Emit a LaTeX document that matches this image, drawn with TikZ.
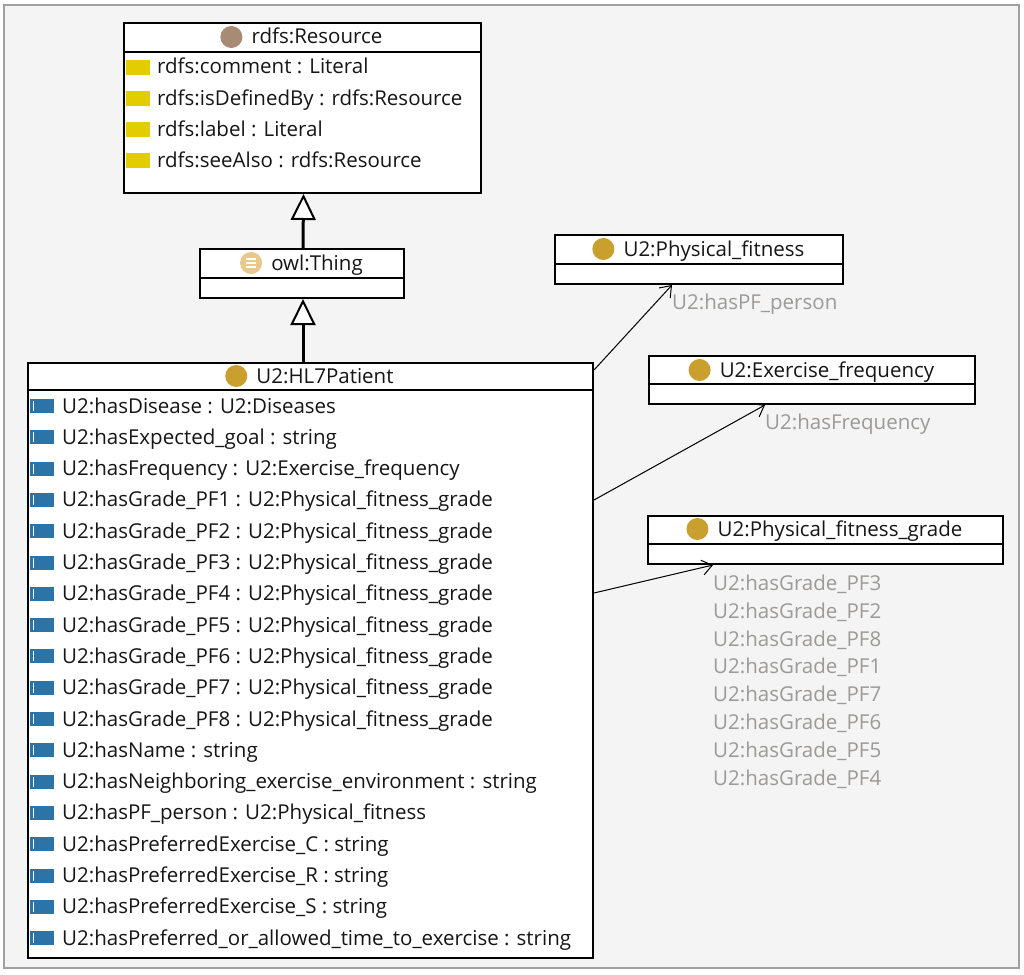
\documentclass[tikz,border=0pt]{standalone}
\usepackage{fontspec}
\setmainfont{Open Sans}
\usetikzlibrary{arrows.meta}
\definecolor{bgc}{HTML}{F4F4F4}
\definecolor{framec}{HTML}{A0A0A0}
\definecolor{txtc}{HTML}{161616}
\definecolor{lblc}{HTML}{9C9A98}
\definecolor{goldc}{HTML}{C99F2E}
\definecolor{brownc}{HTML}{A88B74}
\definecolor{thingc}{HTML}{E8C98A}
\definecolor{yelc}{HTML}{E3CC00}
\definecolor{bluec}{HTML}{2D74A6}
\begin{document}
\begin{tikzpicture}[x=1pt,y=-1pt,
  classbox/.style={draw=black,line width=2pt,fill=white,inner sep=0pt,anchor=north west},
  divline/.style={draw=black,line width=1.5pt},
  ttl/.style={inner sep=0pt,font=\fontsize{20.5}{24}\selectfont,text=txtc,text height=14pt,text depth=0pt},
  rowtxt/.style={inner sep=0pt,anchor=west,font=\fontsize{20.5}{24}\selectfont,text=txtc,text height=14pt,text depth=0pt},
  lbl/.style={inner sep=0pt,anchor=west,font=\fontsize{20.5}{24}\selectfont,text=lblc,text height=14pt,text depth=0pt},
  gen/.style={line width=3pt,-{Triangle[open,fill=white,length=26pt,width=25pt,line width=2pt]}},
  prop/.style={line width=1pt,-{Straight Barb[length=10pt,width=15pt,line width=1pt]}},
]
\useasboundingbox (0,0) rectangle (1024,974);
\fill[white] (0,0) rectangle (1024,974);
\draw[framec,line width=1.5pt,fill=bgc] (4,5) rectangle (1019,968);

% rdfs:Resource
\node[classbox,minimum width=357pt,minimum height=170pt] (res) at (123,22) {};
\draw[divline] ([yshift=-30pt]res.north west) -- ([yshift=-30pt]res.north east);
\node[ttl] (rest) at (317,37) {rdfs:Resource};
\fill[brownc] ([xshift=-20pt]rest.west) circle (11pt);
\foreach \t [count=\i from 0] in {rdfs:comment : Literal, rdfs:isDefinedBy : rdfs:Resource, rdfs:label : Literal, rdfs:seeAlso : rdfs:Resource}{
  \pgfmathsetmacro{\yy}{67+31*\i}
  \fill[yelc] (126,\yy-7.5) rectangle (150,\yy+7.5);
  \node[rowtxt] (ra\i) at (157,\yy) {\t};
}

% owl:Thing
\node[classbox,minimum width=204pt,minimum height=49pt] (thing) at (199,248) {};
\draw[divline] ([yshift=-30pt]thing.north west) -- ([yshift=-30pt]thing.north east);
\node[ttl] (thingt) at (317,263) {owl:Thing};
\fill[thingc] ([xshift=-20pt]thingt.west) circle (11pt);
\foreach \d in {-4,0,4}{
  \draw[white,line width=1.5pt] ([xshift=-25pt,yshift=\d pt]thingt.west) -- ([xshift=-15pt,yshift=\d pt]thingt.west);
}

% U2:HL7Patient
\node[classbox,minimum width=565pt,minimum height=595pt] (hl7) at (27,362) {};
\draw[divline] ([yshift=-28pt]hl7.north west) -- ([yshift=-28pt]hl7.north east);
\node[ttl] (hl7t) at (325,376) {U2:HL7Patient};
\fill[goldc] ([xshift=-20pt]hl7t.west) circle (11pt);
\foreach \t [count=\i from 0] in {
  U2:hasDisease : U2:Diseases,
  U2:hasExpected\_goal : string,
  U2:hasFrequency : U2:Exercise\_frequency,
  U2:hasGrade\_PF1 : U2:Physical\_fitness\_grade,
  U2:hasGrade\_PF2 : U2:Physical\_fitness\_grade,
  U2:hasGrade\_PF3 : U2:Physical\_fitness\_grade,
  U2:hasGrade\_PF4 : U2:Physical\_fitness\_grade,
  U2:hasGrade\_PF5 : U2:Physical\_fitness\_grade,
  U2:hasGrade\_PF6 : U2:Physical\_fitness\_grade,
  U2:hasGrade\_PF7 : U2:Physical\_fitness\_grade,
  U2:hasGrade\_PF8 : U2:Physical\_fitness\_grade,
  U2:hasName : string,
  U2:hasNeighboring\_exercise\_environment : string,
  U2:hasPF\_person : U2:Physical\_fitness,
  U2:hasPreferredExercise\_C : string,
  U2:hasPreferredExercise\_R : string,
  U2:hasPreferredExercise\_S : string,
  U2:hasPreferred\_or\_allowed\_time\_to\_exercise : string}{
  \pgfmathsetmacro{\yy}{406+31.3*\i}
  \fill[bluec] (30,\yy-7) rectangle (54,\yy+7);
  \draw[white,line width=1.2pt] (33.5,\yy-5) -- (33.5,\yy+5);
  \node[rowtxt] (rb\i) at (62,\yy) {\t};
}

% U2:Physical_fitness
\node[classbox,minimum width=288pt,minimum height=49pt] (pf) at (554,234) {};
\draw[divline] ([yshift=-30pt]pf.north west) -- ([yshift=-30pt]pf.north east);
\node[ttl] (pft) at (714,249) {U2:Physical\_fitness};
\fill[goldc] ([xshift=-20pt]pft.west) circle (11pt);

% U2:Exercise_frequency
\node[classbox,minimum width=326pt,minimum height=48pt] (ex) at (648,355) {};
\draw[divline] ([yshift=-29pt]ex.north west) -- ([yshift=-29pt]ex.north east);
\node[ttl] (ext) at (827,370) {U2:Exercise\_frequency};
\fill[goldc] ([xshift=-20pt]ext.west) circle (11pt);

% U2:Physical_fitness_grade
\node[classbox,minimum width=355pt,minimum height=48pt] (pfg) at (647,515) {};
\draw[divline] ([yshift=-29pt]pfg.north west) -- ([yshift=-29pt]pfg.north east);
\node[ttl] (pfgt) at (840,529) {U2:Physical\_fitness\_grade};
\fill[goldc] ([xshift=-20pt]pfgt.west) circle (11pt);

% generalisation connectors
\draw[gen] ([xshift=1pt]thing.north) -- ([xshift=1pt]res.south);
\draw[gen] ([xshift=-7.5pt]hl7.north) -- ([xshift=1pt]thing.south);

% property connectors
\draw[prop] ([yshift=-8pt]hl7.north east) -- ([xshift=118pt]pf.south west);
\draw[prop] ([yshift=-138pt]hl7.north east) -- ([xshift=117pt]ex.south west);
\draw[prop] ([yshift=-231pt]hl7.north east) -- ([xshift=66pt]pfg.south west);

% labels
\node[lbl] (l1) at (672,302) {U2:hasPF\_person};
\node[lbl] (l2) at (765,422) {U2:hasFrequency};
\foreach \t [count=\i from 0] in {3,2,8,1,7,6,5,4}{
  \pgfmathsetmacro{\yy}{583.5+27.8*\i}
  \node[lbl] (lg\i) at (713,\yy) {U2:hasGrade\_PF\t};
}
\end{tikzpicture}
\end{document}
